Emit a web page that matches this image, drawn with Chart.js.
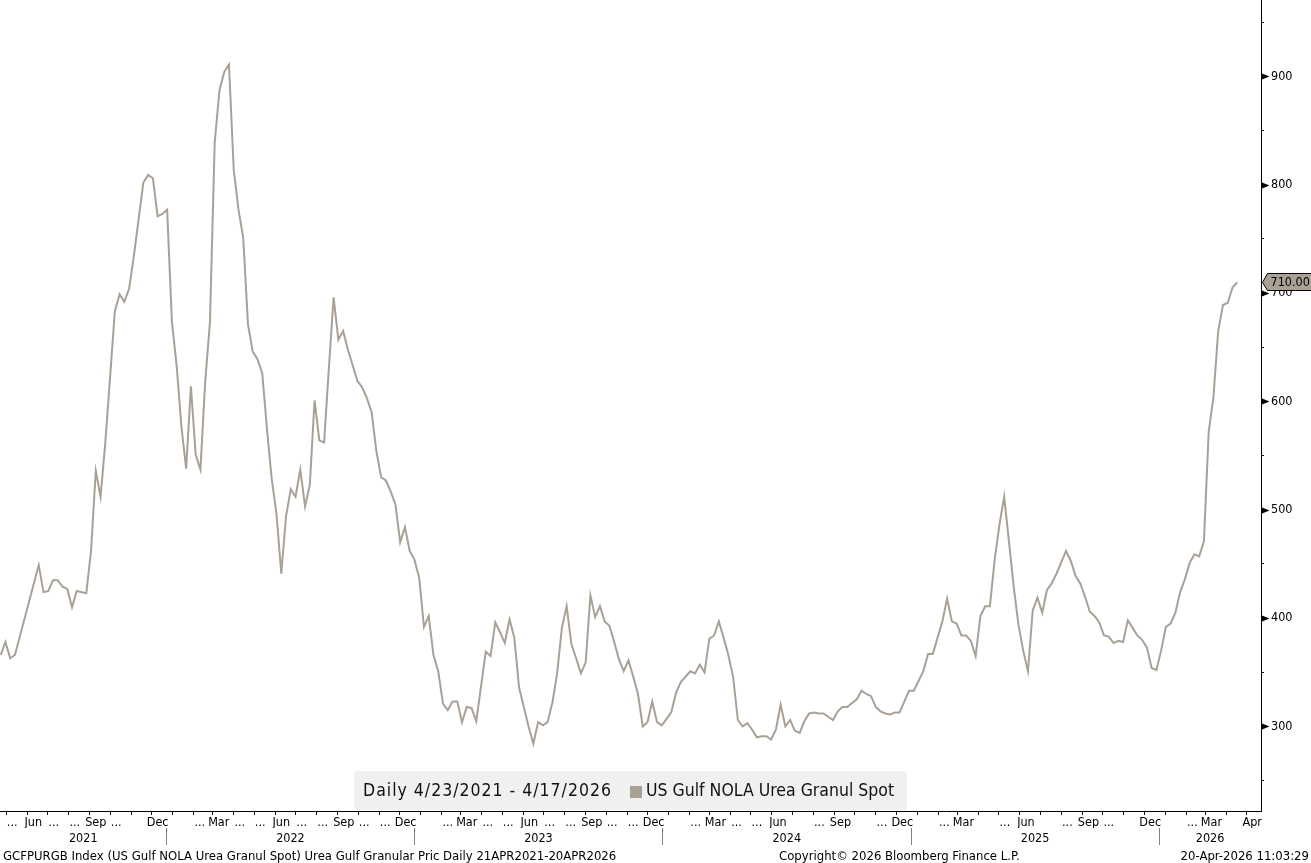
<!DOCTYPE html>
<html>
<head>
<meta charset="utf-8">
<script src="https://cdn.jsdelivr.net/npm/chart.js@4.4.1/dist/chart.umd.min.js"></script>
<style>
  html, body { margin: 0; padding: 0; background: #fff; }
  #wrap { position: relative; width: 1311px; height: 863px; overflow: hidden;
          font-family: 'DejaVu Sans Condensed', 'DejaVu Sans', sans-serif; color: #000; }
  #c { position: absolute; left: 0; top: 0; }
  #legend { position: absolute; left: 354px; top: 771px; width: 553px; height: 39px;
            background: #f0f0f0; border-radius: 4px; font-size: 17.5px; color: #111; }
  #legend span { position: absolute; top: 0; line-height: 39px; white-space: nowrap; }
  #legend #lgRange { letter-spacing: 1px; }
  #legend .sw { top: 15px; width: 12px; height: 12px; }
  .foot { position: absolute; top: 848px; font-size: 13px; line-height: 15px; white-space: nowrap; color: #000; }
</style>
</head>
<body>
<div id="wrap">
  <canvas id="c" width="1311" height="863"></canvas>
  <div id="legend">
    <span id="lgRange" style="left:9px"></span>
    <span class="sw" id="lgSw" style="left:276px"></span>
    <span id="lgName" style="left:292px"></span>
  </div>
  <div class="foot" style="left:3px">GCFPURGB Index (US Gulf NOLA Urea Granul Spot) Urea Gulf Granular Pric Daily 21APR2021-20APR2026</div>
  <div class="foot" style="left:779px">Copyright© 2026 Bloomberg Finance L.P.</div>
  <div class="foot" style="right:2px">20-Apr-2026 11:03:29</div>
</div>
<script>
// ---------------- data ----------------
const seriesName = 'US Gulf NOLA Urea Granul Spot';
const rangeText = 'Daily 4/23/2021 - 4/17/2026';
const startDate = '2021-04-23';        // first weekly observation (Friday)

// week number since startDate
const weeks = [
  0,1,2,3,8,9,10,11,12,13,14,15,16,18,19,20,21,22,23,24,25,26,27,28,30,31,32,33,34,35,
  36,37,38,39,40,41,42,43,44,45,46,47,48,49,50,51,52,53,54,55,56,57,58,59,60,61,62,63,64,65,
  66,67,68,69,70,71,72,73,75,76,77,78,79,80,81,82,83,84,85,86,87,88,89,90,91,92,
  93,94,95,96,97,98,99,100,102,103,104,105,106,107,108,109,111,112,113,114,115,116,117,118,119,120,
  121,122,123,124,125,126,127,128,129,130,131,132,133,134,135,136,137,138,139,140,141,142,143,
  145,146,147,148,149,150,151,152,153,154,155,156,157,158,159,160,161,162,163,164,165,166,167,168,
  169,170,171,172,173,174,175,176,177,178,180,181,182,183,184,185,186,187,188,189,190,191,192,
  194,195,196,197,198,199,200,201,202,203,204,205,206,207,208,209,210,211,212,213,214,215,216,217,
  218,219,220,221,222,224,225,226,227,228,229,230,231,232,233,234,235,236,237,238,239,240,241,242,
  243,244,245,246,247,248,249,250,251,252,253,254,255,256,257,258,259,260
];
// USD/short ton
const values = [
  366,378,363,366,449,424,425,435,435,429,427,410,425,423,462,536,512,562,622,683,699,692,704,734,802,809,806,771,773,777,
  674,633,577,538,614,551,537,618,673,839,887,904,911,814,777,751,671,646,639,626,574,528,496,441,494,519,512,537,503,523,
  601,564,562,630,696,657,665,648,619,613,603,590,554,530,527,517,505,470,484,462,454,437,392,402,366,351,
  321,315,323,323,304,318,317,305,369,365,396,387,377,399,382,336,300,284,304,301,304,322,349,391,411,376,
  363,349,359,421,401,411,397,393,378,362,351,361,346,330,300,304,323,304,301,307,313,331,341,
  351,349,357,350,381,384,397,382,366,346,306,300,303,297,290,291,291,288,297,320,300,306,296,294,
  305,312,313,312,312,309,306,314,318,318,325,333,330,328,318,314,312,311,313,313,323,333,333,
  351,367,367,382,397,418,397,395,384,384,379,365,402,411,411,454,486,512,471,429,394,370,351,407,
  419,405,426,432,441,462,453,439,432,420,406,402,396,384,383,377,379,378,398,391,384,380,373,354,
  352,370,392,395,405,424,436,451,459,457,471,572,604,665,689,691,705,710
];

// x-axis month labels, one per month from May 2021 to Apr 2026 ('' = no label)
const monthLabels = [
  '...','Jun','...','...','Sep','...','','Dec',
  '','...','Mar','...','...','Jun','...','...','Sep','...','...','Dec',
  '','...','Mar','...','...','Jun','...','...','Sep','...','...','Dec',
  '','...','Mar','...','...','Jun','','...','Sep','','...','Dec',
  '','...','Mar','','...','Jun','','...','Sep','...','','Dec',
  '','...','Mar','Apr'
];
const years = ['2021','2022','2023','2024','2025','2026'];
const yTicks = [250,300,350,400,450,500,550,600,650,700,750,800,850,900,950];

// ---------------- styling ----------------
const FONT = "'DejaVu Sans Condensed', 'DejaVu Sans', sans-serif";
const LINE = '#a9a096';
const Y_MIN = 222, Y_MAX = 970.5;
const X_MIN = -1, X_MAX = 1855;   // days since startDate shown on the axis

// ---------------- helpers ----------------
const DAY = 86400000;
const t0 = Date.parse(startDate + 'T00:00:00Z');
const dayOf = (y, m, d) => (Date.UTC(y, m, d) - t0) / DAY;

const points = weeks.map((w, i) => ({ x: w * 7, y: values[i] }));

const monthStarts = [];
for (let k = 0; k <= 61; k++) {
  const d = dayOf(2021, 4 + k, 1);
  if (d >= X_MIN && d <= X_MAX) monthStarts.push(d);
}
const monthTicks = [];
monthLabels.forEach((txt, k) => {
  if (!txt) return;
  let d = dayOf(2021, 4 + k, 10);
  if (k === monthLabels.length - 1) d = X_MAX - 13;   // last, partial month
  monthTicks.push({ value: d, label: txt });
});
const seps = years.slice(1).map(y => dayOf(+y, 0, 1) - 9);
const bounds = [X_MIN, ...seps, X_MAX];
const yearTicks = [];
years.forEach((y, i) => yearTicks.push({ value: (bounds[i] + bounds[i + 1]) / 2, label: y }));
seps.forEach(s => yearTicks.push({ value: s, label: '' }));
yearTicks.sort((a, b) => a.value - b.value);
const sepSet = new Set(seps);

document.getElementById('lgRange').textContent = rangeText;
document.getElementById('lgName').textContent = seriesName;
document.getElementById('lgSw').style.background = LINE;

Chart.defaults.font.family = FONT;
Chart.defaults.color = '#000';

const noPad = s => { s.paddingTop = 0; s.paddingBottom = 0; s.paddingLeft = 0; s.paddingRight = 0; };

const decor = {
  id: 'decor',
  afterDraw(chart) {
    const ys = chart.scales.y, ctx = chart.ctx;
    ctx.save();
    ctx.fillStyle = '#000';
    ys.ticks.forEach(t => {
      if (t.value % 100 !== 0) return;
      const py = Math.round(ys.getPixelForValue(t.value)) + 0.5;
      ctx.beginPath();
      ctx.moveTo(ys.left + 1, py - 3);
      ctx.lineTo(ys.left + 8.5, py);
      ctx.lineTo(ys.left + 1, py + 3);
      ctx.closePath();
      ctx.fill();
    });
    // last value tag
    const last = values[values.length - 1];
    const py = Math.round(ys.getPixelForValue(last)) + 0.5;
    const x0 = ys.left + 1.5, x1 = ys.left + 6.5, x2 = chart.width + 2;
    ctx.beginPath();
    ctx.moveTo(x0, py);
    ctx.lineTo(x1, py - 9);
    ctx.lineTo(x2, py - 9);
    ctx.lineTo(x2, py + 8);
    ctx.lineTo(x1, py + 8);
    ctx.closePath();
    ctx.fillStyle = LINE;
    ctx.fill();
    ctx.strokeStyle = '#000';
    ctx.lineWidth = 1;
    ctx.stroke();
    ctx.fillStyle = '#000';
    ctx.font = '12.5px ' + FONT;
    ctx.textBaseline = 'middle';
    ctx.textAlign = 'left';
    ctx.fillText(last.toFixed(2), ys.left + 9.5, py);
    ctx.restore();
  }
};

new Chart(document.getElementById('c'), {
  type: 'line',
  data: {
    datasets: [{
      label: seriesName,
      data: points,
      borderColor: LINE,
      backgroundColor: LINE,
      borderWidth: 2,
      pointRadius: 0,
      tension: 0,
      fill: false
    }]
  },
  options: {
    responsive: false,
    animation: false,
    devicePixelRatio: 1,
    layout: { padding: 0 },
    plugins: { legend: { display: false }, tooltip: { enabled: false } },
    scales: {
      x: {
        type: 'linear', position: 'bottom', min: X_MIN, max: X_MAX, weight: 0,
        afterBuildTicks: s => { s.ticks = monthStarts.map(v => ({ value: v })); },
        afterFit: s => { s.height = 4; noPad(s); },
        ticks: { display: false },
        grid: { display: true, drawOnChartArea: false, drawTicks: true, tickLength: 4, color: '#000', lineWidth: 1 },
        border: { display: true, color: '#000', width: 1 }
      },
      xm: {
        type: 'linear', position: 'bottom', min: X_MIN, max: X_MAX, weight: 1,
        afterBuildTicks: s => { s.ticks = monthTicks.map(t => ({ value: t.value })); },
        afterFit: s => { s.height = 13; noPad(s); },
        ticks: { autoSkip: false, maxRotation: 0, minRotation: 0, padding: 1, color: '#000',
                 font: { family: FONT, size: 12.5, lineHeight: 1 },
                 callback: (v, i) => monthTicks[i] ? monthTicks[i].label : '' },
        grid: { display: false, drawTicks: false, tickLength: 0 },
        border: { display: false }
      },
      xy: {
        type: 'linear', position: 'bottom', min: X_MIN, max: X_MAX, weight: 2,
        afterBuildTicks: s => { s.ticks = yearTicks.map(t => ({ value: t.value })); },
        afterFit: s => { s.height = 35; noPad(s); },
        ticks: { autoSkip: false, maxRotation: 0, minRotation: 0, padding: -13, color: '#000',
                 font: { family: FONT, size: 12.5, lineHeight: 1 },
                 callback: (v, i) => yearTicks[i] ? yearTicks[i].label : '' },
        grid: { display: true, drawOnChartArea: false, drawTicks: true, tickLength: 17, lineWidth: 1,
                color: ctx => (ctx.tick && sepSet.has(ctx.tick.value)) ? '#808080' : 'rgba(0,0,0,0)' },
        border: { display: false }
      },
      y: {
        type: 'linear', position: 'right', min: Y_MIN, max: Y_MAX,
        afterBuildTicks: s => { s.ticks = yTicks.map(v => ({ value: v })); },
        afterFit: s => { s.width = 50; noPad(s); },
        ticks: { padding: 7, color: '#000', font: { family: FONT, size: 12.5 },
                 callback: v => (v % 100 === 0 ? String(v) : '') },
        grid: { display: true, drawOnChartArea: false, drawTicks: true, tickLength: 3, color: '#000' },
        border: { display: true, color: '#000', width: 1 }
      }
    }
  },
  plugins: [decor]
});
</script>
</body>
</html>
